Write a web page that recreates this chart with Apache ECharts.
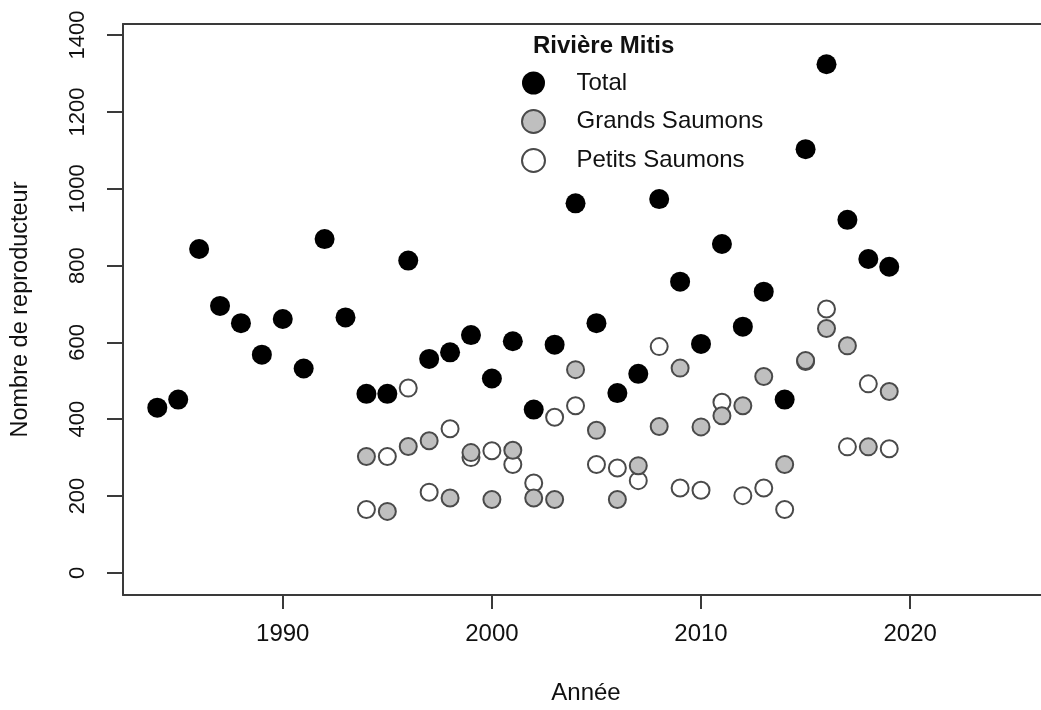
<!DOCTYPE html>
<html>
<head>
<meta charset="utf-8">
<title>Rivière Mitis</title>
<script src="https://cdn.jsdelivr.net/npm/echarts@6/dist/echarts.min.js"></script>
<style>
    html, body { margin: 0; padding: 0; background: #fff; overflow: hidden; }
    /* plot box runs past the right edge of the window, as in the original figure */
    #chart { width: 1060px; height: 710px; }
</style>
</head>
<body>
<div id="chart"></div>
<script>
    'use strict';

    // annual spawner counts
    var years = [1984, 1985, 1986, 1987, 1988, 1989, 1990, 1991, 1992, 1993,
        1994, 1995, 1996, 1997, 1998, 1999, 2000, 2001, 2002, 2003,
        2004, 2005, 2006, 2007, 2008, 2009, 2010, 2011, 2012, 2013,
        2014, 2015, 2016, 2017, 2018, 2019];
    var totalCounts = [430, 451, 843, 695, 650, 568, 661, 532, 869, 665,
        466, 466, 813, 557, 574, 619, 506, 603, 425, 594,
        962, 650, 468, 518, 973, 758, 596, 856, 641, 732,
        451, 1103, 1324, 919, 817, 797];

    var splitYears = [1994, 1995, 1996, 1997, 1998, 1999, 2000, 2001, 2002, 2003,
        2004, 2005, 2006, 2007, 2008, 2009, 2010, 2011, 2012, 2013,
        2014, 2015, 2016, 2017, 2018, 2019];
    var grandsCounts = [303, 160, 329, 344, 195, 313, 191, 319, 195, 191,
        529, 371, 191, 279, 381, 533, 380, 409, 435, 511,
        282, 553, 636, 591, 328, 472];
    var petitsCounts = [165, 303, 481, 210, 375, 300, 318, 282, 234, 405,
        435, 282, 273, 240, 589, 221, 215, 444, 201, 221,
        165, 550, 687, 328, 492, 323];

    var xTicks = [1990, 2000, 2010, 2020];
    var yTicks = [0, 200, 400, 600, 800, 1000, 1200, 1400];

    var FONT = '"Liberation Sans", Arial, sans-serif';
    var INK = '#111';
    var LINE = '#3a3a3a';
    var X_MIN = 1982.36;
    var X_MAX = 2026.64;

    function pairs(xs, ys) {
        return xs.map(function (x, i) {
            return [x, ys[i]];
        });
    }

    function plain(v) {
        return String(v);
    }

    function ring(name, fill, xs, ys) {
        return {
            name: name,
            type: 'scatter',
            symbol: 'circle',
            symbolSize: 17,
            itemStyle: { color: fill, borderColor: '#4a4a4a', borderWidth: 2, opacity: 1 },
            emphasis: { disabled: true },
            data: pairs(xs, ys)
        };
    }

    var chart = echarts.init(document.getElementById('chart'), null, { renderer: 'canvas' });

    chart.setOption({
        backgroundColor: '#fff',
        animation: false,
        textStyle: { fontFamily: FONT },
        title: {
            text: 'Rivière Mitis',
            left: 533,
            top: 34,
            padding: 0,
            textStyle: { fontFamily: FONT, fontSize: 24, fontWeight: 'bold', color: INK }
        },
        legend: {
            data: ['Total', 'Grands Saumons', 'Petits Saumons'],
            orient: 'vertical',
            left: 521,
            top: 71,
            padding: 0,
            itemWidth: 76,
            itemHeight: 23,
            itemGap: 14,
            selectedMode: false,
            textStyle: { fontFamily: FONT, fontSize: 24, color: INK }
        },
        // box is drawn by the axis lines (left, bottom, top); its right side is off-screen
        grid: {
            left: 123,
            right: 11,
            top: 24,
            bottom: 114.5,
            show: false,
            containLabel: false
        },
        xAxis: [{
            type: 'value',
            min: X_MIN,
            max: X_MAX,
            name: 'Année',
            nameLocation: 'middle',
            nameGap: 86,
            nameTextStyle: { fontFamily: FONT, fontSize: 24, color: INK },
            axisLine: { show: true, onZero: false, lineStyle: { color: LINE, width: 2 } },
            axisTick: { show: true, customValues: xTicks, length: 14, lineStyle: { color: LINE, width: 2 } },
            axisLabel: { customValues: xTicks, formatter: plain, margin: 27, fontSize: 24, color: INK, fontFamily: FONT },
            splitLine: { show: false }
        }, {
            type: 'value',
            position: 'top',
            min: X_MIN,
            max: X_MAX,
            axisLine: { show: true, onZero: false, lineStyle: { color: LINE, width: 2 } },
            axisTick: { show: false },
            axisLabel: { show: false },
            splitLine: { show: false }
        }],
        yAxis: {
            type: 'value',
            min: -57.7,
            max: 1428.9,
            name: 'Nombre de reproducteur',
            nameLocation: 'middle',
            nameRotate: 90,
            nameGap: 90,
            nameTextStyle: { fontFamily: FONT, fontSize: 23.5, color: INK },
            axisLine: { show: true, onZero: false, lineStyle: { color: LINE, width: 2 } },
            axisTick: { show: true, customValues: yTicks, length: 16, lineStyle: { color: LINE, width: 2 } },
            axisLabel: { customValues: yTicks, formatter: plain, rotate: 90, margin: 34, fontSize: 22, color: INK, fontFamily: FONT },
            splitLine: { show: false }
        },
        // petits first so the grey rings sit on top where they overlap
        series: [
            ring('Petits Saumons', '#ffffff', splitYears, petitsCounts),
            ring('Grands Saumons', '#bfbfbf', splitYears, grandsCounts),
            {
                name: 'Total',
                type: 'scatter',
                symbol: 'circle',
                symbolSize: 20,
                itemStyle: { color: '#000', opacity: 1 },
                emphasis: { disabled: true },
                data: pairs(years, totalCounts)
            }
        ]
    });
</script>
</body>
</html>
